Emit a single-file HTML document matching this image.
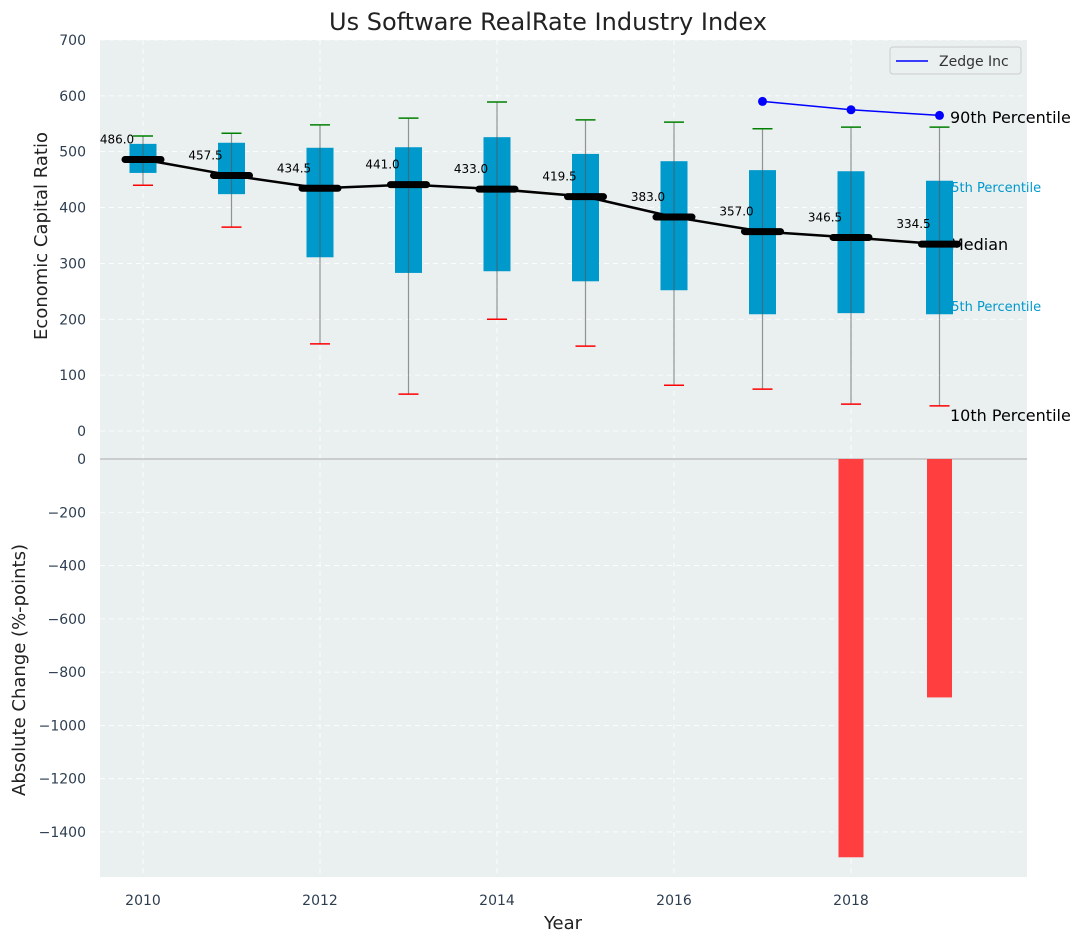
<!DOCTYPE html>
<html><head><meta charset="utf-8"><style>
body{margin:0;background:#fff;}
svg{display:block;font-family:"DejaVu Sans","Liberation Sans",sans-serif;}
</style></head><body>
<svg id="chart" width="1085" height="942"></svg>
<script>
const years=[2010,2011,2012,2013,2014,2015,2016,2017,2018,2019];
const q1=[462,424,311,283,286,268,252,209,211,209];
const q3=[514,516,507,508,526,496,483,467,465,448];
const p10=[440,365,156,66,200,152,82,75,48,45];
const p90=[528,533,548,560,589,557,553,541,544,544];
const medians=[486.0,457.5,434.5,441.0,433.0,419.5,383.0,357.0,346.5,334.5];
const zedgeYears=[2017,2018,2019];
const zedgeVals=[590,575,565];
const changeYears=[2018,2019];
const changeVals=[-1495,-895];
const topTicks=[0,100,200,300,400,500,600,700];
const botTicks=[0,-200,-400,-600,-800,-1000,-1200,-1400];
const xTicks=[2010,2012,2014,2016,2018];

const NS="http://www.w3.org/2000/svg";
const svg=document.getElementById('chart');
const L=100,R=1027;
const x=v=>143+(v-2010)*88.5;
const yT=v=>431-v*0.5586;
const yB=v=>459-v*0.2664;
function el(tag,attrs,parent,text){const e=document.createElementNS(NS,tag);for(const k in attrs)e.setAttribute(k,attrs[k]);if(text!==undefined)e.textContent=text;(parent||svg).appendChild(e);return e;}

let bg1=el('rect',{x:L,y:40,width:R-L,height:419,fill:'#eaeff0'});


let bg2=el('rect',{x:L,y:459,width:R-L,height:418,fill:'#eaeff0'});



topTicks.forEach(t=>{el('line',{x1:L,x2:R,y1:yT(t),y2:yT(t),stroke:'#fff','stroke-dasharray':'5,4','stroke-width':0.8});
 let tx=el('text',{x:86,y:yT(t)+5,'text-anchor':'end','font-size':14,fill:'#2d3e50'},svg,t);
 
 });
botTicks.forEach(t=>{if(t!==0)el('line',{x1:L,x2:R,y1:yB(t),y2:yB(t),stroke:'#fff','stroke-dasharray':'5,4','stroke-width':0.8});
 let tx=el('text',{x:86,y:yB(t)+5,'text-anchor':'end','font-size':14,fill:'#2d3e50'},svg,t<0?'\u2212'+(-t):t);
 
 });
xTicks.forEach(t=>{el('line',{x1:x(t),x2:x(t),y1:40,y2:877,stroke:'#fff','stroke-dasharray':'5,4','stroke-width':0.8});
 let tx=el('text',{x:x(t),y:905,'text-anchor':'middle','font-size':14,fill:'#2d3e50'},svg,t);
 
 });
el('line',{x1:L,x2:R,y1:459,y2:459,stroke:'#aaa','stroke-width':1});

// percentile labels (behind boxes)
[['90th Percentile',950,123,'#000',16],['75th Percentile',943,192,'#0099cc',13],['Median',950,250,'#000',16],['25th Percentile',943,311,'#0099cc',13],['10th Percentile',950,421,'#000',16]].forEach(([t,tx0,ty,c,fs])=>{
 let tx=el('text',{x:tx0,y:ty,'font-size':fs,fill:c},svg,t);
 
 });

years.forEach((yr,i)=>{
 const cx=x(yr);
 let g=el('g',{});
 
 
 el('rect',{x:cx-13.5,y:yT(q3[i]),width:27,height:yT(q1[i])-yT(q3[i]),fill:'#0099cc'},g);
 el('line',{x1:cx,x2:cx,y1:yT(p90[i]),y2:yT(p10[i]),stroke:'#555','stroke-opacity':0.6,'stroke-width':1.2},g);
 el('line',{x1:cx-10,x2:cx+10,y1:yT(p90[i]),y2:yT(p90[i]),stroke:'green','stroke-width':1.5},g);
 el('line',{x1:cx-10,x2:cx+10,y1:yT(p10[i]),y2:yT(p10[i]),stroke:'red','stroke-width':1.5},g);
});
let pl=el('polyline',{points:years.map((yr,i)=>x(yr)+','+yT(medians[i])).join(' '),fill:'none',stroke:'#000','stroke-width':2.5});


years.forEach((yr,i)=>{
 let m=el('line',{x1:x(yr)-18,x2:x(yr)+18,y1:yT(medians[i]),y2:yT(medians[i]),stroke:'#000','stroke-width':7,'stroke-linecap':'round'});
 
 
 let t=el('text',{x:x(yr)-26,y:yT(medians[i])-16,'text-anchor':'middle','font-size':12,fill:'#000'},svg,medians[i].toFixed(1));
 
 
});
let zl=el('polyline',{points:zedgeYears.map((yr,i)=>x(yr)+','+yT(zedgeVals[i])).join(' '),fill:'none',stroke:'blue','stroke-width':1.5});


zedgeYears.forEach((yr,i)=>{let c=el('circle',{cx:x(yr),cy:yT(zedgeVals[i]),r:4.5,fill:'blue'});
 
 });
changeYears.forEach((yr,i)=>{let b=el('rect',{x:x(yr)-12.5,y:yB(0),width:25,height:yB(changeVals[i])-yB(0),fill:'#ff3f3f'});
 
 });

let lg=el('g',{});


el('rect',{x:890,y:47,width:131,height:27,fill:'#eaeff0',stroke:'#ccc',rx:3},lg);
el('line',{x1:896,x2:928,y1:61,y2:61,stroke:'blue','stroke-width':1.5},lg);
el('text',{x:939,y:66,'font-size':14,fill:'#333'},lg,'Zedge Inc');

let ti=el('text',{x:548,y:30,'text-anchor':'middle','font-size':24,fill:'#222'},svg,'Us Software RealRate Industry Index');


let ya=el('text',{x:0,y:0,transform:'translate(47,236) rotate(-90)','text-anchor':'middle','font-size':18,fill:'#222'},svg,'Economic Capital Ratio');


let yb=el('text',{x:0,y:0,transform:'translate(25,670) rotate(-90)','text-anchor':'middle','font-size':18,fill:'#222'},svg,'Absolute Change (%-points)');


let xa=el('text',{x:563,y:929,'text-anchor':'middle','font-size':18,fill:'#222'},svg,'Year');


</script>
</body></html>
